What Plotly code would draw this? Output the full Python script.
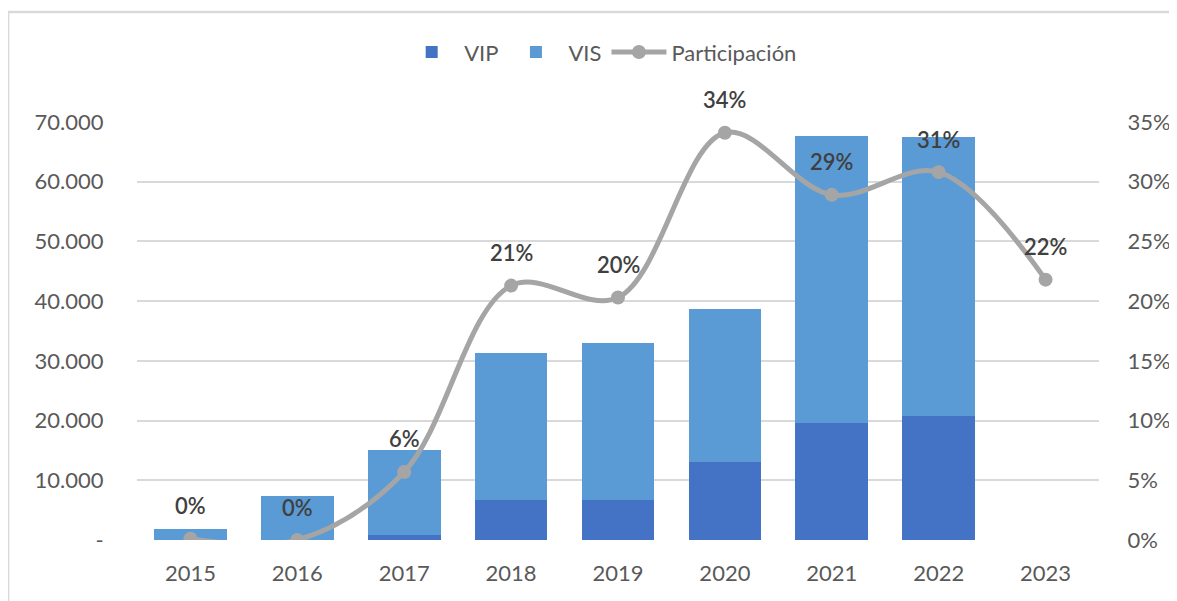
import plotly.graph_objects as go

years = [2015, 2016, 2017, 2018, 2019, 2020, 2021, 2022, 2023]
vip = [0, 0, 800, 6700, 6700, 13100, 19550, 20800, None]
vis = [1800, 7350, 14200, 24600, 26350, 25550, 48100, 46700, None]
participacion = [0.001, 0.0, 0.057, 0.213, 0.203, 0.341, 0.289, 0.308, 0.218]
left_ticks = [0, 10000, 20000, 30000, 40000, 50000, 60000, 70000]
left_text = ["-", "10.000", "20.000", "30.000", "40.000", "50.000", "60.000", "70.000"]

FONT = "Lato"
fig = go.Figure()
fig.add_trace(go.Bar(name="VIP", x=years, y=vip, marker=dict(color="#4472C4", line=dict(width=0))))
fig.add_trace(go.Bar(name="VIS", x=years, y=vis, marker=dict(color="#5B9BD5", line=dict(width=0))))
fig.add_trace(go.Scatter(name="Participación", x=years, y=participacion, yaxis="y2",
                         mode="lines+markers",
                         line=dict(color="#A5A5A5", width=5, shape="spline", smoothing=1.0),
                         marker=dict(color="#A5A5A5", size=14)))

for x, p in zip(years, participacion):
    fig.add_annotation(x=x, y=p, xref="x", yref="y2", text=f"{round(p*100):d}%", showarrow=False,
                       yshift=33, font=dict(family=FONT, size=22, color="#404040", weight=600))

fig.update_layout(
    width=1177, height=601,
    margin=dict(l=129, r=86, t=114, b=69),
    paper_bgcolor="white", plot_bgcolor="white",
    barmode="stack", bargap=0.32,
    font=dict(family=FONT, size=22, color="#595959"),
    legend=dict(orientation="h", x=0.482, xanchor="center", y=1.167, yanchor="middle",
                font=dict(family=FONT, size=22, color="#595959"), traceorder="normal",
                itemwidth=55),
    xaxis=dict(range=[2014.5, 2023.5], tickvals=years, showgrid=False, showline=False,
               zeroline=False, ticks="outside", ticklen=14, tickcolor="rgba(0,0,0,0)",
               tickfont=dict(size=22, color="#595959")),
    yaxis=dict(range=[0, 70000], tickvals=left_ticks, ticktext=left_text,
               showgrid=True, gridcolor="#D9D9D9", gridwidth=1.5, zeroline=False,
               showline=False, ticks="outside", ticklen=28, tickcolor="rgba(0,0,0,0)",
               tickfont=dict(size=22, color="#595959")),
    yaxis2=dict(range=[0, 0.35], overlaying="y", side="right", tickformat=".0%",
                dtick=0.05, tick0=0, showgrid=False, zeroline=False, showline=False,
                ticks="outside", ticklen=23, tickcolor="rgba(0,0,0,0)",
                tickfont=dict(size=22, color="#595959")),
    showlegend=True,
)

fig.add_shape(type="rect", xref="paper", yref="paper", x0=-0.134, x1=1.3, y0=-0.3, y1=1.263,
              line=dict(color="#D9D9D9", width=2.5), fillcolor="rgba(0,0,0,0)", layer="below")

fig.write_html("out.html")
